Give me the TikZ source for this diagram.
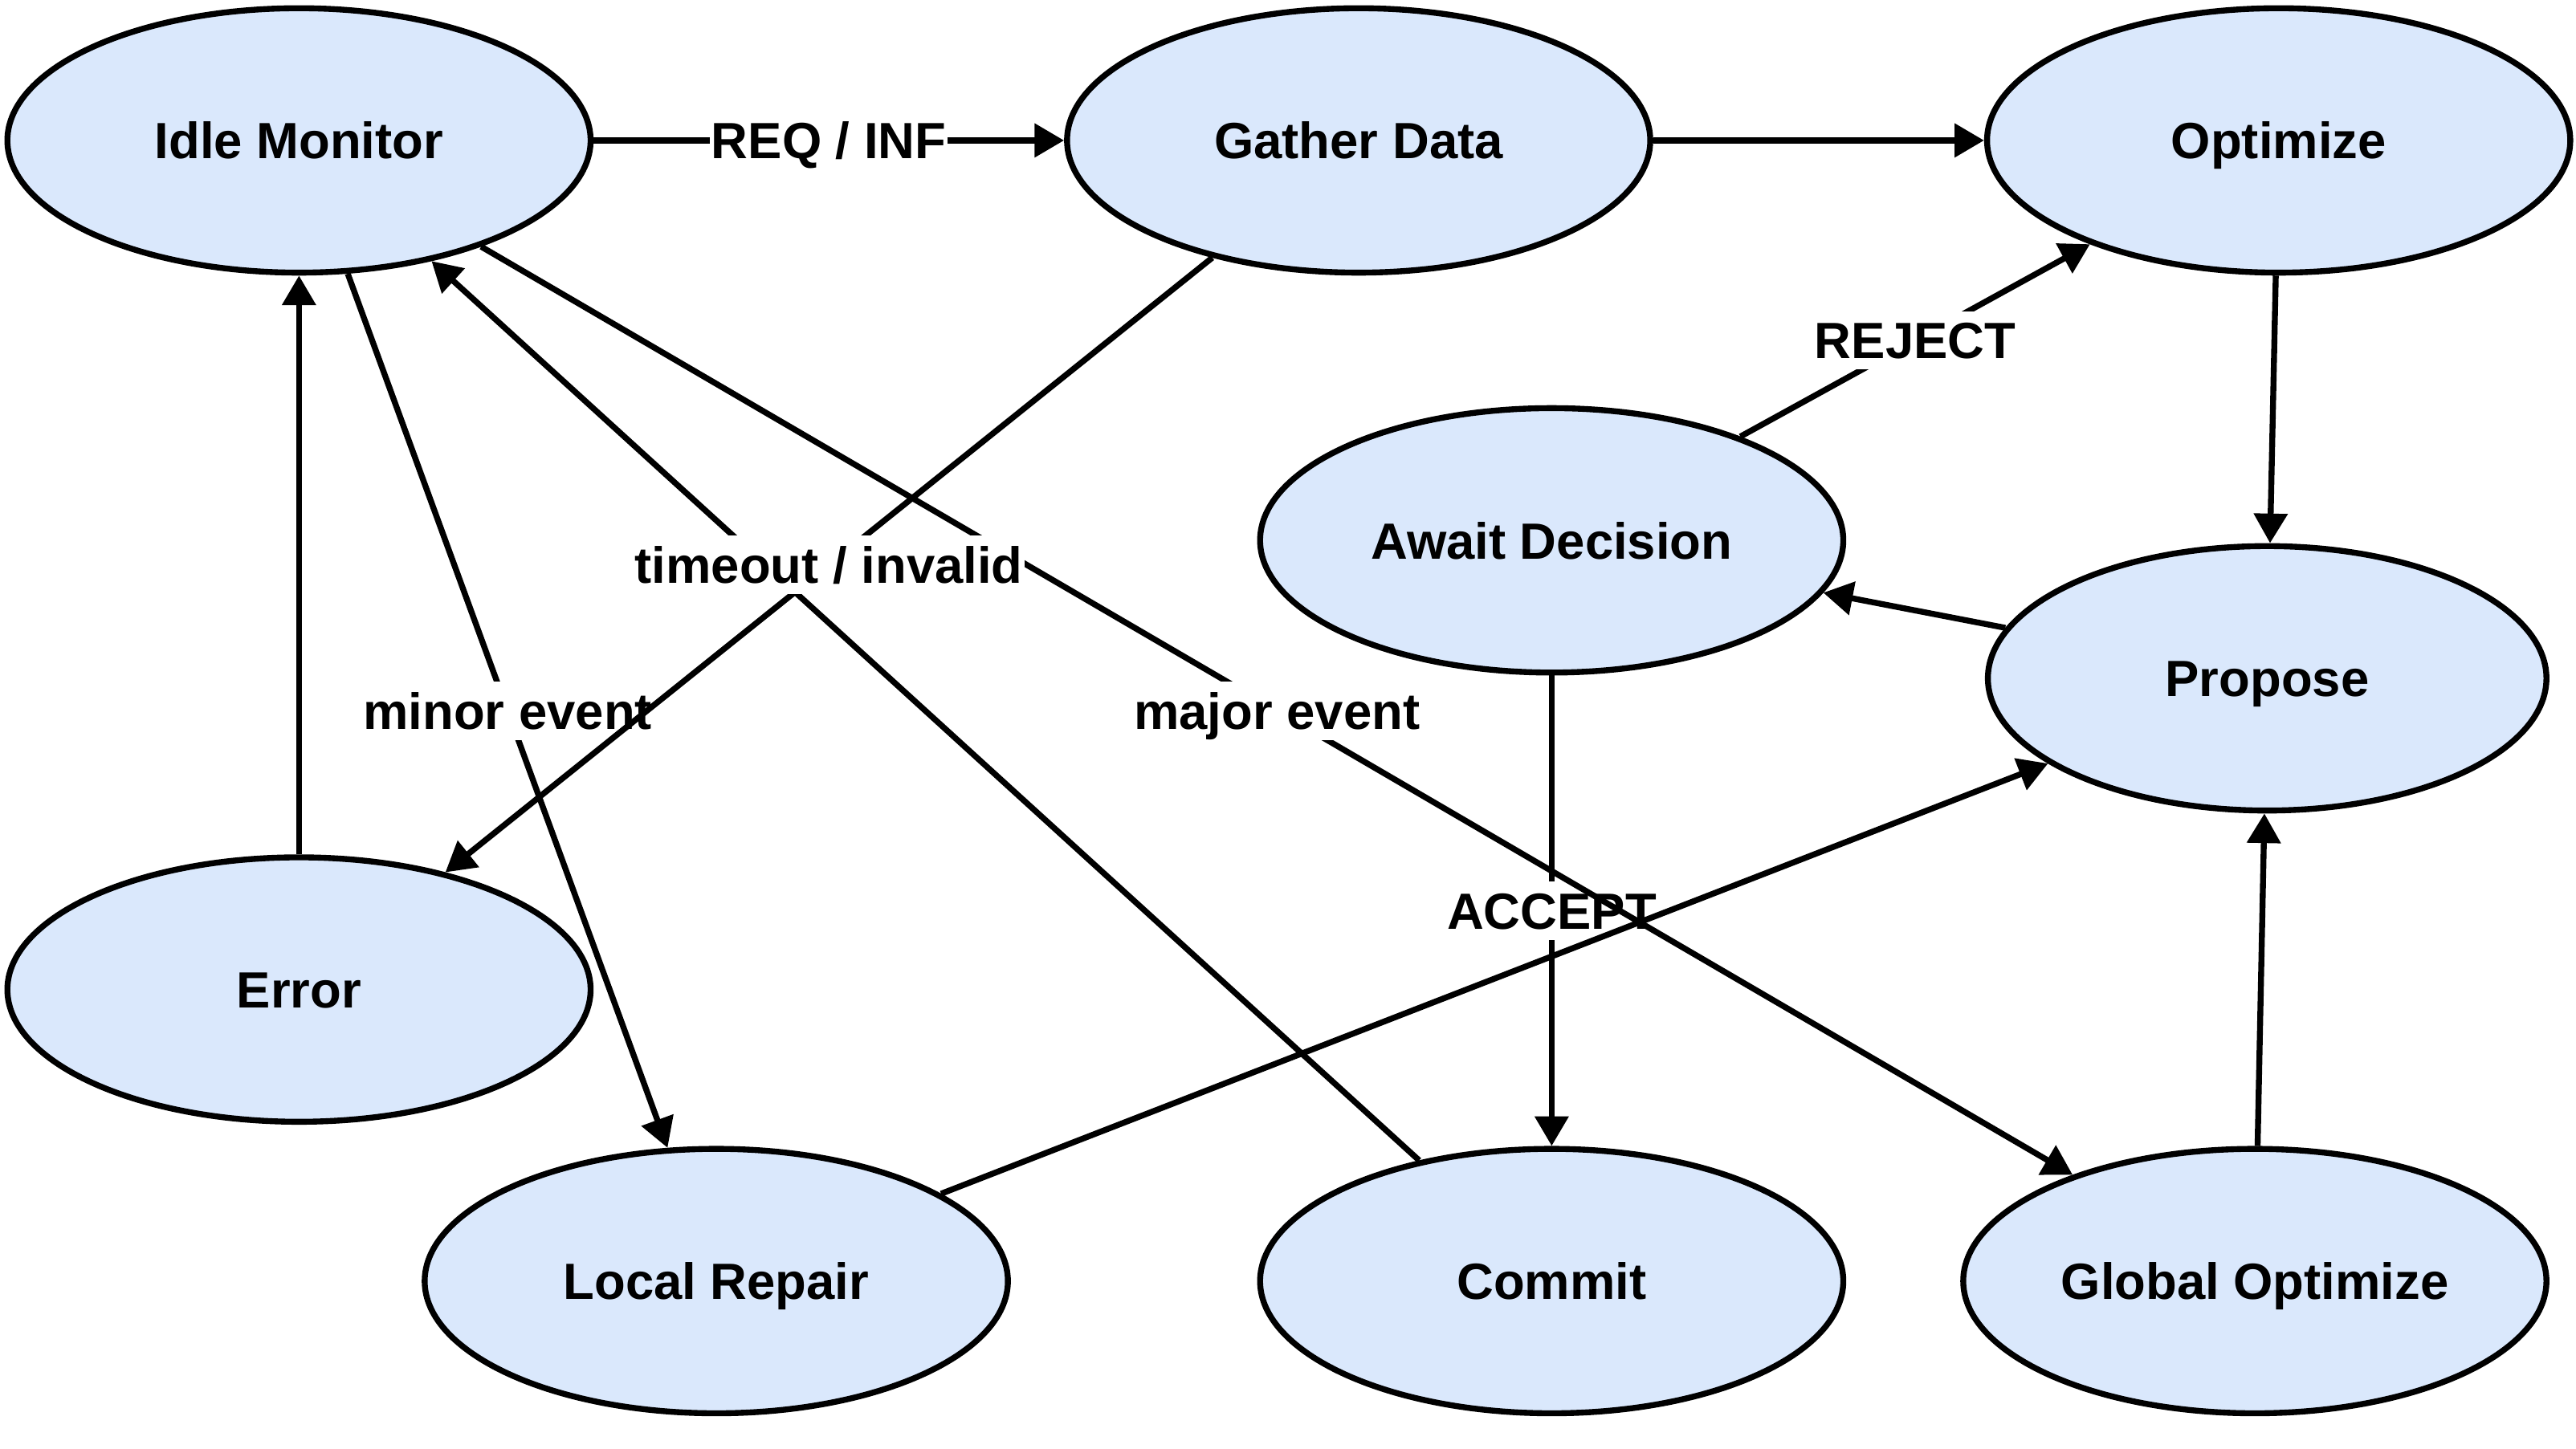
\documentclass[tikz,border=0pt]{standalone}
\usepackage{fontspec}
\setmainfont{Liberation Sans}
\usetikzlibrary{shapes.geometric,arrows.meta}
\definecolor{nodefill}{HTML}{DAE8FC}
\begin{document}
\begin{tikzpicture}[x=1pt,y=-1pt,
  state/.style={ellipse, draw=black, line width=3.6pt, fill=nodefill, inner sep=0pt,
    minimum width=355pt, minimum height=161pt, text height=22.4pt, text depth=0pt,
    font=\fontsize{31}{36}\selectfont\bfseries},
  edge/.style={line width=3.6pt, -{Triangle[length=18pt,width=20pt]}},
  lbl/.style={fill=white, inner xsep=1pt, inner ysep=4pt, text height=25pt, text depth=2.6pt,
    font=\fontsize{31}{36}\selectfont\bfseries}]
\useasboundingbox (0,0) rectangle (1568,882);

\node[state] (idle) at (182,85.5) {Idle Monitor};
\node[state] (gather) at (827,85.5) {Gather Data};
\node[state] (opt) at (1387,85.5) {Optimize};
\node[state] (await) at (944.5,329) {Await Decision};
\node[state, minimum width=340pt] (prop) at (1380,413) {Propose};
\node[state] (err) at (182,602.5) {Error};
\node[state] (local) at (436,780) {Local Repair};
\node[state] (commit) at (944.5,780) {Commit};
\node[state] (global) at (1372.5,780) {Global Optimize};

\draw[edge] (idle) -- node[lbl]{REQ / INF} (gather);
\draw[edge] (gather) -- (opt);
\draw[edge] (opt) -- (prop);
\draw[edge] (prop) -- (await);
\draw[edge] (await) -- node[lbl]{REJECT} (opt);
\draw[edge] (await) -- node[lbl]{ACCEPT} (commit);
\draw[edge] (commit) -- (idle);
\draw[edge] (idle) -- node[lbl]{minor event} (local);
\draw[edge] (idle) -- node[lbl]{major event} (global);
\draw[edge] (local) -- (prop);
\draw[edge] (global) -- (prop);
\draw[edge] (err) -- (idle);
\draw[edge] (gather) -- node[lbl]{timeout / invalid} (err);
\end{tikzpicture}
\end{document}
